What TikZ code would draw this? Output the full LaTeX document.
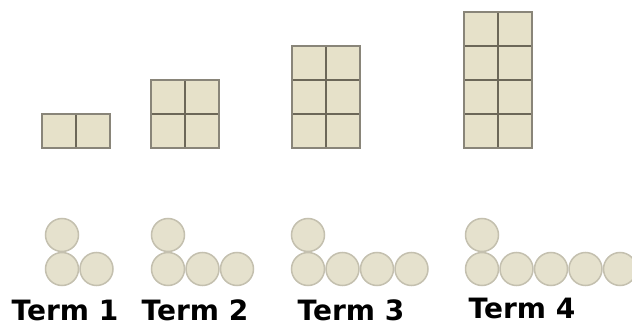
\documentclass[tikz,border=0pt]{standalone}
\usepackage{fontspec}
\setmainfont{DejaVu Sans}
\usetikzlibrary{calc}
\definecolor{tilebeige}{RGB}{230,225,201}
\definecolor{tileline}{RGB}{108,103,88}
\definecolor{counterfill}{RGB}{229,225,205}
\definecolor{counteredge}{RGB}{196,192,175}

\tikzset{
  counter/.style={circle, minimum size=33pt, inner sep=0pt, fill=counterfill, draw=counteredge, line width=1.5pt},
  termlabel/.style={anchor=base, inner sep=0pt, text depth=0pt, font=\fontsize{28}{30}\selectfont\bfseries}
}

\begin{document}
\begin{tikzpicture}[x=1pt,y=-1pt]
            \useasboundingbox (0,0) rectangle (632,326);
            \def\cell{34}
            \def\base{148}
            \def\gap{34.5}

            % tiles
            \foreach \n/\x in {1/42, 2/151, 3/292, 4/464} {
                \pgfmathsetmacro{\ytop}{\base-\n*\cell}
                \coordinate (T\n) at (\x,\ytop);
                \coordinate (B\n) at ({\x+2*\cell},\base);
                \fill[tilebeige] (T\n) rectangle (B\n);
                \draw[tileline, line width=1.5pt] ({\x+\cell},\ytop) -- ({\x+\cell},\base);
                \foreach \r in {1,2,3}{
                    \ifnum\r<\n
                        \draw[tileline, line width=1.5pt] (\x,{\ytop+\r*\cell}) -- ({\x+2*\cell},{\ytop+\r*\cell});
                    \fi
                }
                \draw[tileline!80, line width=1.5pt] (T\n) rectangle (B\n);
            }

            % counters
            \foreach \n/\x in {1/62, 2/168, 3/308, 4/482} {
                \node[counter] (u\n) at (\x,235) {};
                \foreach \k in {0,...,\n}{
                    \node[counter] (c\n\k) at ({\x+\k*\gap},269) {};
                }
            }

            %labels
            \node[termlabel] (lab1) at (65,320) {Term 1};
            \node[termlabel] (lab2) at (195,320) {Term 2};
            \node[termlabel] (lab3) at (351,320.5) {Term 3};
            \node[termlabel] (lab4) at (522,318) {Term 4};
\end{tikzpicture}
\end{document}
